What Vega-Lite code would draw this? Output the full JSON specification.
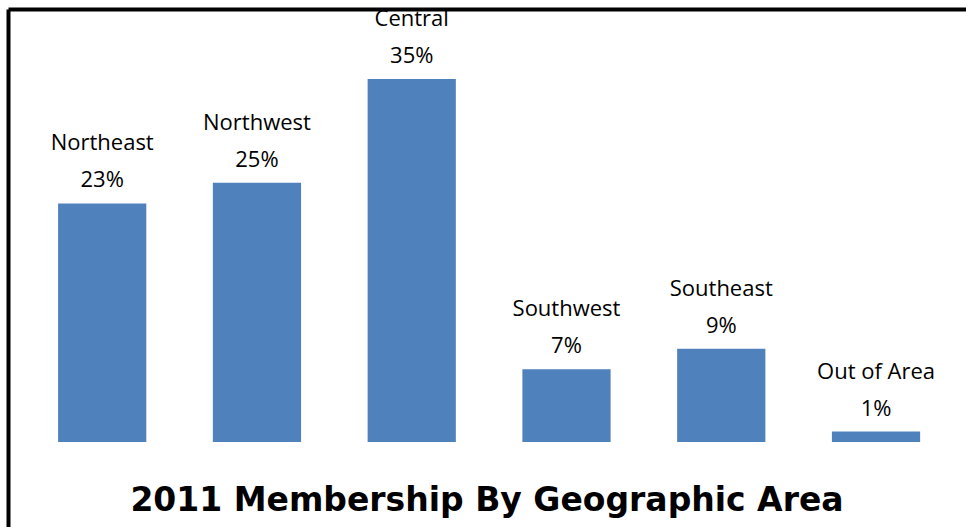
{
  "$schema": "https://vega.github.io/schema/vega-lite/v6.json",
  "autosize": {"type": "none"},
  "padding": {"left": 8, "top": 9, "right": 0, "bottom": 0},
  "width": 958,
  "height": 518,
  "background": "white",
  "title": {
    "text": "2011 Membership By Geographic Area",
    "orient": "bottom",
    "anchor": "middle",
    "baseline": "alphabetic",
    "offset": -16,
    "font": "DejaVu Sans",
    "fontSize": 33,
    "fontWeight": "bold",
    "color": "black"
  },
  "data": {
    "values": [
      {"region": "Northeast", "share": 0.23},
      {"region": "Northwest", "share": 0.25},
      {"region": "Central", "share": 0.35},
      {"region": "Southwest", "share": 0.07},
      {"region": "Southeast", "share": 0.09},
      {"region": "Out of Area", "share": 0.01}
    ]
  },
  "encoding": {
    "x": {
      "field": "region",
      "type": "nominal",
      "sort": null,
      "scale": {"paddingInner": 0.43, "paddingOuter": 0.31, "align": 0.522},
      "axis": {"orient": "top", "labels": false, "ticks": false, "title": null, "domain": true, "domainColor": "black", "domainWidth": 4, "grid": false}
    },
    "y": {
      "field": "share",
      "type": "quantitative",
      "scale": {"domain": [-0.082, 0.4175], "nice": false, "zero": false},
      "axis": {"orient": "left", "labels": false, "ticks": false, "title": null, "domain": true, "domainColor": "black", "domainWidth": 4, "grid": false}
    }
  },
  "layer": [
    {"mark": {"type": "bar", "color": "#4F81BD"}},
    {
      "mark": {"type": "text", "baseline": "alphabetic", "dy": -16, "font": "Open Sans", "fontSize": 22, "color": "black"},
      "encoding": {"text": {"field": "share", "type": "quantitative", "format": ".0%"}}
    },
    {
      "mark": {"type": "text", "baseline": "alphabetic", "dy": -53, "font": "Open Sans", "fontSize": 22, "color": "black"},
      "encoding": {"text": {"field": "region", "type": "nominal"}}
    }
  ],
  "config": {"view": {"stroke": null}}
}
